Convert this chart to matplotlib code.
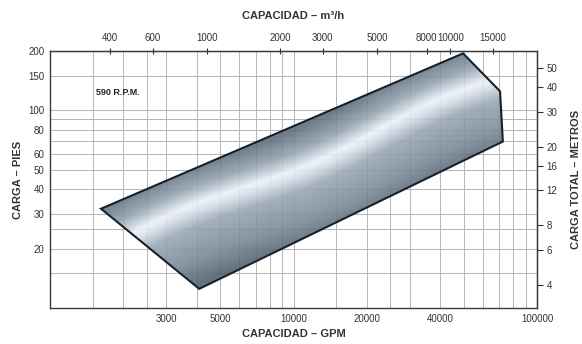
import numpy as np
import matplotlib
matplotlib.use('Agg')
import matplotlib.pyplot as plt
from matplotlib.patches import Polygon
from matplotlib.ticker import FixedLocator, NullLocator, FuncFormatter

plt.rcParams['font.family'] = ['Liberation Sans Narrow', 'Liberation Sans', 'DejaVu Sans']

# Datos
caudal_gpm = [1620, 4100, 72400, 70500, 49700]
carga_pies = [31.8, 12.5, 69.6, 125, 194.5]

ticks_gpm = [3000, 5000, 10000, 20000, 40000, 100000]
ticks_m3h = [400, 600, 1000, 2000, 3000, 5000, 8000, 10000, 15000]
ticks_pies = [20, 30, 40, 50, 60, 80, 100, 150, 200]
ticks_metros = [4, 6, 8, 12, 16, 20, 30, 40, 50]
grid_gpm = [1500, 2000, 2500, 4000, 6000, 7000, 8000, 9000,
            15000, 25000, 30000, 50000, 60000, 70000, 80000, 90000]
grid_pies = [15, 25, 70, 90]

GPM_POR_M3H = 4.403
PIES_POR_M = 3.281

texto_color = '#333333'

fig = plt.figure(figsize=(5.82, 3.44), dpi=100)
ax = fig.add_axes([0.0859, 0.1047, 0.8368, 0.7471])
ax.set_xscale('log')
ax.set_yscale('log')
ax.set_xlim(1000, 100000)
ax.set_ylim(10, 200)

ax.xaxis.set_major_locator(FixedLocator(ticks_gpm))
ax.xaxis.set_minor_locator(FixedLocator(grid_gpm))
ax.xaxis.set_major_formatter(FuncFormatter(lambda v, p: f'{int(v)}'))
ax.xaxis.set_minor_formatter(FuncFormatter(lambda v, p: ''))
ax.yaxis.set_major_locator(FixedLocator(ticks_pies))
ax.yaxis.set_minor_locator(FixedLocator(grid_pies))
ax.yaxis.set_major_formatter(FuncFormatter(lambda v, p: f'{int(v)}'))
ax.yaxis.set_minor_formatter(FuncFormatter(lambda v, p: ''))
ax.tick_params(which='both', length=0, labelsize=7, colors=texto_color, pad=4)
ax.grid(which='both', color='#b8b8b8', linewidth=0.75, zorder=0)
for s in ax.spines.values():
    s.set_color('#3a3a3a')
    s.set_linewidth(1.0)

# Eje superior en m3/h
sx = ax.secondary_xaxis('top', functions=(lambda q: q / GPM_POR_M3H, lambda q: q * GPM_POR_M3H))
sx.xaxis.set_major_locator(FixedLocator(ticks_m3h))
sx.xaxis.set_minor_locator(NullLocator())
sx.xaxis.set_major_formatter(FuncFormatter(lambda v, p: f'{int(round(v))}'))
sx.tick_params(direction='inout', length=4, width=0.8, labelsize=7, colors=texto_color, pad=4)
sx.set_xlabel('CAPACIDAD – m³/h', fontsize=8, fontweight='bold', color=texto_color, labelpad=10)

# Eje derecho en metros
sy = ax.secondary_yaxis('right', functions=(lambda h: h / PIES_POR_M, lambda h: h * PIES_POR_M))
sy.yaxis.set_major_locator(FixedLocator(ticks_metros))
sy.yaxis.set_minor_locator(NullLocator())
sy.yaxis.set_major_formatter(FuncFormatter(lambda v, p: f'{int(round(v))}'))
sy.tick_params(direction='out', length=4, width=0.8, labelsize=7, colors=texto_color, pad=3)
sy.set_ylabel('CARGA TOTAL – METROS', fontsize=8, fontweight='bold', color=texto_color, labelpad=10)

ax.set_xlabel('CAPACIDAD – GPM', fontsize=8, fontweight='bold', color=texto_color, labelpad=4)
ax.set_ylabel('CARGA – PIES', fontsize=8, fontweight='bold', color=texto_color, labelpad=4)

ax.text(1900, 123, '590 R.P.M.', fontsize=6.5, fontweight='bold', color='#222222',
        ha='center', va='center')

# Zona de operacion con degradado metalico
poly = Polygon(np.column_stack([caudal_gpm, carga_pies]), closed=True,
               facecolor='none', edgecolor='#17212b', linewidth=1.5, zorder=4)
ax.add_patch(poly)

fig.canvas.draw()
bb = ax.get_window_extent()
pts = ax.transData.transform(np.column_stack([caudal_gpm, carga_pies]))
pts = pts - [bb.x0, bb.y0]
p0, p1, pb = pts[0], pts[4], pts[1]
dirv = (p1 - p0) / np.linalg.norm(p1 - p0)
nrm = np.array([-dirv[1], dirv[0]])
ancho = abs(np.dot(pb - p0, nrm))

ny, nx = 400, 700
u = np.linspace(0, bb.width, nx)
v = np.linspace(0, bb.height, ny)
U, V = np.meshgrid(u, v)
s = -((U - p0[0]) * nrm[0] + (V - p0[1]) * nrm[1]) / ancho
lo = (U - p0[0]) * dirv[0] + (V - p0[1]) * dirv[1]
s = s + 0.04 * np.sin(lo / 45.0)

paradas = [0.0, 0.18, 0.33, 0.40, 0.52, 0.78, 1.0]
r = np.interp(s, paradas, [92, 145, 236, 210, 152, 120, 80])
g = np.interp(s, paradas, [108, 160, 242, 219, 166, 135, 94])
b = np.interp(s, paradas, [124, 175, 248, 229, 180, 150, 108])
img = np.dstack([r, g, b]) / 255.0

im = ax.imshow(img, extent=(0, 1, 0, 1), transform=ax.transAxes, origin='lower',
               aspect='auto', alpha=0.88, zorder=3, interpolation='bilinear')
clip = Polygon(np.column_stack([caudal_gpm, carga_pies]), closed=True,
               transform=ax.transData, facecolor='none', edgecolor='none')
ax.add_patch(clip)
im.set_clip_path(clip)
ax.set_xlim(1000, 100000)
ax.set_ylim(10, 200)

fig.savefig('out.png', dpi=100)
